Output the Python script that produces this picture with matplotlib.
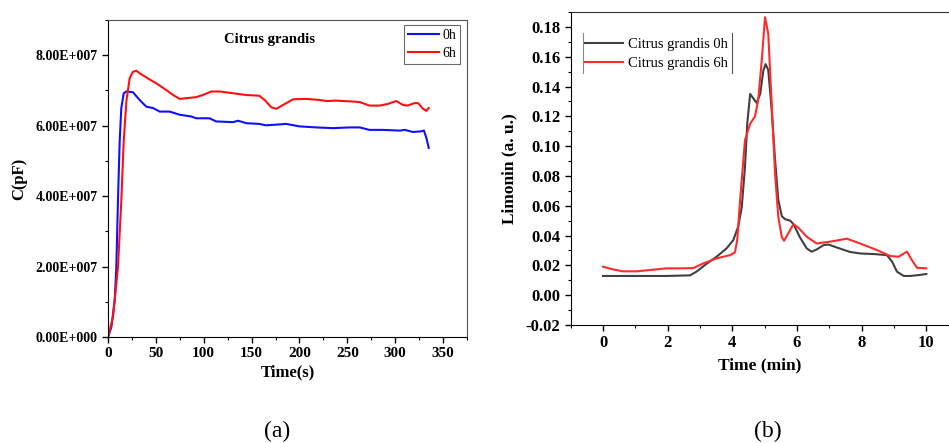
import matplotlib
matplotlib.use("Agg")
import matplotlib.pyplot as plt
from matplotlib.ticker import MultipleLocator, FuncFormatter
from matplotlib.lines import Line2D

plt.rcParams['font.family'] = ['Liberation Serif', 'DejaVu Serif']

# ---- Panel (a): capacitance vs time ----
t_0h = [0, 3.5, 7, 8.7, 10.4, 12.2, 13.9, 16.4, 19.2, 26, 33, 40, 47, 54, 64.4, 75, 87, 92,
        106, 113, 130.6, 136, 144.5, 158, 165, 176, 186, 200, 217.7, 235, 252.5, 263, 273,
        287, 305, 310, 318.7, 327, 330, 332.6, 335]
c_0h = [0, 0.28, 1.04, 1.98, 3.86, 5.56, 6.5, 6.92, 6.97, 6.95, 6.73, 6.54, 6.5, 6.4, 6.4,
        6.31, 6.26, 6.21, 6.21, 6.12, 6.1, 6.14, 6.07, 6.05, 6.01, 6.03, 6.05, 5.98, 5.95,
        5.93, 5.95, 5.95, 5.88, 5.88, 5.86, 5.88, 5.82, 5.84, 5.86, 5.65, 5.37]

t_6h = [0, 5.2, 10.4, 13.9, 16.4, 19.2, 22.6, 26, 29.6, 33, 41.8, 50.5, 61, 68, 75, 82, 92,
        99, 108, 117, 130.6, 144.5, 158, 163.6, 170.7, 176, 183, 193.5, 207, 221, 228,
        238.6, 252.5, 263, 273, 284, 292.6, 301, 308, 313, 320, 324, 329, 332.6, 335]
c_6h = [0, 0.56, 1.98, 3.86, 5.56, 6.69, 7.34, 7.53, 7.56, 7.49, 7.34, 7.2, 7.01, 6.87,
        6.76, 6.78, 6.81, 6.87, 6.97, 6.97, 6.92, 6.87, 6.85, 6.73, 6.52, 6.48, 6.59, 6.75,
        6.76, 6.73, 6.7, 6.71, 6.69, 6.67, 6.57, 6.57, 6.62, 6.7, 6.59, 6.57, 6.64, 6.64,
        6.48, 6.42, 6.5]
c_scale = 1e7

# ---- Panel (b): limonin chromatogram ----
x_0h = [0, 1.96, 2.69, 2.89, 3.2, 3.51, 3.82, 4.03, 4.18, 4.29, 4.39, 4.46, 4.55, 4.65,
        4.75, 4.86, 4.96, 5.03, 5.11, 5.21, 5.32, 5.42, 5.53, 5.63, 5.79, 5.89, 6.09, 6.3,
        6.45, 6.61, 6.82, 6.97, 7.23, 7.64, 7.95, 8.37, 8.78, 8.94, 9.09, 9.3, 9.5, 9.76, 10]
y_0h = [0.0129, 0.0129, 0.0133, 0.0158, 0.021, 0.0258, 0.0314, 0.037, 0.046, 0.059, 0.086,
        0.115, 0.135, 0.132, 0.129, 0.135, 0.151, 0.155, 0.151, 0.126, 0.091, 0.064, 0.053,
        0.051, 0.050, 0.0477, 0.0388, 0.0314, 0.0292, 0.0307, 0.0336, 0.034, 0.032, 0.029,
        0.028, 0.0276, 0.0269, 0.0225, 0.0158, 0.0129, 0.0129, 0.0135, 0.0142]

x_6h = [0, 0.31, 0.62, 1.03, 1.45, 1.96, 2.38, 2.79, 3.1, 3.51, 3.93, 4.08, 4.15, 4.24,
        4.39, 4.55, 4.7, 4.8, 4.91, 5.01, 5.11, 5.21, 5.32, 5.42, 5.53, 5.6, 5.73, 5.89,
        6.04, 6.3, 6.61, 7.02, 7.54, 7.95, 8.47, 8.88, 9.14, 9.4, 9.55, 9.71, 10]
y_6h = [0.0191, 0.0173, 0.016, 0.016, 0.0169, 0.018, 0.018, 0.0182, 0.0213, 0.0247, 0.0269,
        0.0287, 0.037, 0.064, 0.104, 0.115, 0.12, 0.131, 0.158, 0.1865, 0.1755, 0.131,
        0.0817, 0.0526, 0.0388, 0.0365, 0.0415, 0.0477, 0.0453, 0.0392, 0.0347, 0.0359,
        0.0379, 0.0347, 0.0303, 0.0263, 0.0258, 0.0292, 0.0236, 0.0184, 0.018]

fig = plt.figure(figsize=(9.49, 4.43), dpi=100)

bold = dict(fontweight='bold')

# ---------- (a) ----------
axa = fig.add_axes([108 / 949, 1 - 337 / 443, (467 - 108) / 949, (337 - 20) / 443])
axa.plot(t_0h, [v * c_scale for v in c_0h], color='#1010ff', lw=1.5, label='0h')
axa.plot(t_6h, [v * c_scale for v in c_6h], color='#ff1010', lw=1.5, label='6h')
axa.set_xlim(0, 375)
axa.set_ylim(0, 9e7)
axa.xaxis.set_major_locator(MultipleLocator(50))
axa.xaxis.set_minor_locator(MultipleLocator(25))
axa.yaxis.set_major_locator(MultipleLocator(2e7))
axa.yaxis.set_minor_locator(MultipleLocator(1e7))

def sci_fmt(v, pos):
    if abs(v) < 1:
        return "0.00E+000"
    e = 0
    m = v
    while abs(m) >= 10:
        m /= 10
        e += 1
    return "%.2fE+%03d" % (m, e)

axa.yaxis.set_major_formatter(FuncFormatter(sci_fmt))
axa.tick_params(which='both', direction='out')
axa.tick_params(axis='y', labelsize=10)
axa.tick_params(axis='x', labelsize=11)
axa.tick_params(which='major', length=4, width=1)
axa.tick_params(which='minor', length=2.5, width=0.8)
for lab in axa.get_xticklabels() + axa.get_yticklabels():
    lab.set_fontweight('bold')
for side in ['top', 'right']:
    axa.spines[side].set_color('#555555')
    axa.spines[side].set_linewidth(0.8)
axa.set_xlabel('Time(s)', fontsize=12, labelpad=3, **bold)
axa.set_ylabel('C(pF)', fontsize=12, labelpad=6, **bold)
axa.text(0.45, 0.94, 'Citrus grandis', transform=axa.transAxes, ha='center', va='center',
         fontsize=10.5, **bold)
lega = axa.legend(loc='upper right', bbox_to_anchor=(0.985, 0.99), fontsize=10,
                  frameon=True, fancybox=False, handlelength=2.2, handletextpad=0.25,
                  borderpad=0.3, labelspacing=0.35, borderaxespad=0.1)
lega.get_frame().set_edgecolor('#444444')
lega.get_frame().set_linewidth(0.8)

# ---------- (b) ----------
axb = fig.add_axes([570.7 / 949, 1 - 325 / 443, (949 - 570.7) / 949, (325 - 12) / 443])
axb.plot(x_0h, y_0h, color='#404040', lw=1.5, label='Citrus grandis 0h')
axb.plot(x_6h, y_6h, color='#ff2a2a', lw=1.5, label='Citrus grandis 6h')
axb.set_xlim(-1.0, 10.7)
axb.set_ylim(-0.02, 0.19)
axb.xaxis.set_major_locator(MultipleLocator(2))
axb.xaxis.set_minor_locator(MultipleLocator(1))
axb.yaxis.set_major_locator(MultipleLocator(0.02))
axb.yaxis.set_minor_locator(MultipleLocator(0.01))
axb.yaxis.set_major_formatter(FuncFormatter(lambda v, p: "%.2f" % v))
axb.tick_params(which='both', direction='out', labelsize=12)
axb.tick_params(which='major', length=4, width=1)
axb.tick_params(which='minor', length=2.5, width=0.8)
for lab in axb.get_xticklabels() + axb.get_yticklabels():
    lab.set_fontweight('bold')
axb.spines['right'].set_visible(False)
axb.spines['top'].set_color('#333333')
axb.set_xlabel('Time (min)', fontsize=12.5, labelpad=4, **bold)
axb.set_ylabel('Limonin (a. u.)', fontsize=12.5, labelpad=6, **bold)
legb = axb.legend(loc='upper left', bbox_to_anchor=(0.02, 0.935), fontsize=10.5,
                  frameon=False, handlelength=2.7, handletextpad=0.3, labelspacing=0.35,
                  borderaxespad=0.0)
# thin vertical bars framing the legend (as in the original)
fig.add_artist(Line2D([583.3 / 949, 583.3 / 949], [1 - 33 / 443, 1 - 73 / 443],
                      color='#888888', lw=0.8))
fig.add_artist(Line2D([731.7 / 949, 731.7 / 949], [1 - 33 / 443, 1 - 73 / 443],
                      color='#555555', lw=0.8))

fig.text(277 / 949, 1 - 431 / 443, '(a)', ha='center', va='center', fontsize=17)
fig.text(768 / 949, 1 - 431 / 443, '(b)', ha='center', va='center', fontsize=17)

fig.savefig('out.png', dpi=100)
